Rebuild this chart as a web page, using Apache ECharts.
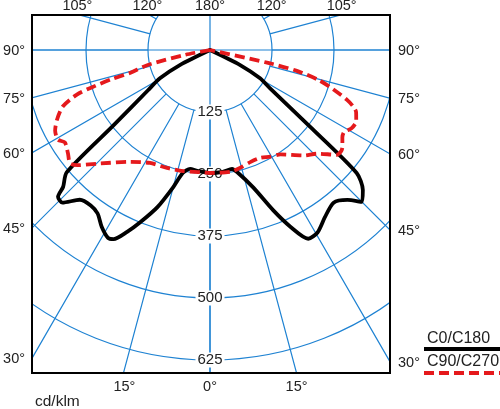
<!DOCTYPE html>
<html>
<head>
<meta charset="utf-8">
<script src="https://cdn.jsdelivr.net/npm/echarts@6/dist/echarts.min.js"></script>
<style>
html, body { margin: 0; padding: 0; background: #fff; }
#main { width: 500px; height: 409px; }
</style>
</head>
<body>
<div id="main"></div>
<script>
// C0/C180 plane (black), angle from nadir in degrees, intensity in cd/klm
var c180Angles = [0, 6, 9.5, 12.5, 15, 18.5, 22, 24.5, 27, 28.5, 31.5, 34.5, 37.5, 41, 44, 46, 47, 49.5, 52, 57, 60.5, 63.5, 64];
var c180Values = [248, 245, 243, 254, 286, 334, 374, 403, 428, 431, 418, 400, 395, 400, 428, 426, 405, 380, 247, 149, 116, 68, 0];
var c0Angles = [0, 6, 10.5, 12.5, 17.5, 21.5, 24.5, 27.5, 30.5, 34.5, 39, 42.5, 45, 47.5, 50, 52.5, 57.5, 60.5, 63.5, 64];
var c0Values = [248, 247, 244, 252, 291, 347, 392, 429, 427, 409, 396, 410, 433, 418, 386, 254, 143, 116, 68, 0];

// C90/C270 plane (red dashed)
var c270Angles = [0, 4.5, 12.5, 20, 28, 35.5, 44, 49, 51, 54, 57.5, 59.5, 62.5, 65.5, 69, 71.5, 72.5, 73.5, 74, 76.5, 79, 80.5];
var c270Values = [248, 247, 250, 253, 258, 277, 318, 354, 363, 354, 347, 356, 352, 339, 318, 283, 249, 206, 168, 129, 50, 0];
var c90Angles = [0, 9.5, 14.5, 20, 25, 29.5, 34, 41.5, 46, 50.5, 52.5, 54, 56.5, 58.5, 61, 64, 67, 68.5, 70, 72.5, 74.5, 76.5, 77.5, 78.5];
var c90Values = [248, 249, 245, 240, 240, 247, 254, 284, 301, 332, 334, 330, 320, 317, 326, 328, 320, 310, 294, 258, 228, 180, 120, 0];

var radiusTicks = [125, 250, 375, 500, 625];
var sideTicks = [90, 75, 60, 45, 30];
var topTicks = [105, 120];
var bottomTicks = [15];

var BLUE = '#1e82d2';
var RED = '#e5191c';
var TXT = '#222';
var FONT = '"Liberation Sans", Arial, sans-serif';

// diagram geometry
var CX = 210, CY = 50;
var RMAX = 750, ROUT = 372;
var FL = 32, FR = 390, FT = 15, FB = 373;

// left half at angle, right half mirrored (360 - angle)
function both(leftA, leftV, rightA, rightV) {
    var out = [];
    for (var i = leftA.length - 1; i >= 0; i--) out.push([leftV[i], leftA[i]]);
    for (var j = 0; j < rightA.length; j++) out.push([rightV[j], 360 - rightA[j]]);
    return out;
}

function txt(s, x, y, align, size) {
    return {
        type: 'text', z: 110, x: x, y: y,
        style: { text: s, fill: TXT, font: (size || 14.5) + 'px ' + FONT, align: align || 'center', verticalAlign: 'middle' }
    };
}

var rad = Math.PI / 180;
var graphics = [
    // white masks outside the frame
    { type: 'rect', z: 100, shape: { x: 0, y: 0, width: 500, height: FT }, style: { fill: '#fff' } },
    { type: 'rect', z: 100, shape: { x: 0, y: 0, width: FL, height: 409 }, style: { fill: '#fff' } },
    { type: 'rect', z: 100, shape: { x: FR, y: 0, width: 110, height: 409 }, style: { fill: '#fff' } },
    { type: 'rect', z: 100, shape: { x: 0, y: FB, width: 500, height: 40 }, style: { fill: '#fff' } },
    { type: 'rect', z: 105, shape: { x: FL, y: FT, width: FR - FL, height: FB - FT }, style: { fill: null, stroke: '#000', lineWidth: 2 } }
];

sideTicks.forEach(function (a) {
    var k = 1 / Math.tan(a * rad);
    if (a === 90) k = 0;
    graphics.push(txt(a + '°', 25, CY + (CX - FL) * k + 1, 'right'));
    graphics.push(txt(a + '°', 398, CY + (FR - CX) * k + 1, 'left'));
});
topTicks.forEach(function (a) {
    var t = (FT - CY) / Math.cos(a * rad);
    var dx = t * Math.sin(a * rad);
    graphics.push(txt(a + '°', CX - dx - 2, 6));
    graphics.push(txt(a + '°', CX + dx + 1, 6));
});
graphics.push(txt('180°', CX, 6));
bottomTicks.forEach(function (a) {
    var t = (FB - CY) / Math.cos(a * rad);
    var dx = t * Math.sin(a * rad);
    graphics.push(txt(a + '°', CX - dx + 1, 387));
    graphics.push(txt(a + '°', CX + dx, 387));
});
graphics.push(txt('0°', CX, 387));
graphics.push(txt('cd/klm', 35, 402, 'left', 15.5));

// legend
graphics.push(txt('C0/C180', 427, 339, 'left', 16));
graphics.push({ type: 'line', z: 110, shape: { x1: 424, y1: 349, x2: 500, y2: 349 }, style: { stroke: '#000', lineWidth: 3.8 } });
graphics.push(txt('C90/C270', 427, 362, 'left', 16));
graphics.push({ type: 'line', z: 110, shape: { x1: 424, y1: 373, x2: 500, y2: 373 }, style: { stroke: RED, lineWidth: 3.8, lineDash: [10, 5] } });

var myChart = echarts.init(document.getElementById('main'));
var option = {
    animation: false,
    backgroundColor: '#fff',
    polar: [
        { center: [CX, CY], radius: [ROUT * 125 / RMAX, ROUT] },
        { center: [CX, CY], radius: [0, ROUT] }
    ],
    angleAxis: [
        {
            polarIndex: 0, type: 'value', min: 0, max: 360, interval: 15,
            startAngle: 270, clockwise: true,
            axisLine: { show: false }, axisTick: { show: false }, axisLabel: { show: false },
            splitLine: { show: true, lineStyle: { color: BLUE, width: 1.2 } }
        },
        {
            polarIndex: 1, type: 'value', min: 0, max: 360, interval: 90,
            startAngle: 270, clockwise: true,
            axisLine: { show: false }, axisTick: { show: false }, axisLabel: { show: false },
            splitLine: { show: true, lineStyle: { color: BLUE, width: 1.2 } }
        }
    ],
    radiusAxis: [
        {
            polarIndex: 0, type: 'value', min: 125, max: RMAX, interval: 125,
            axisLine: { show: false }, axisTick: { show: false }, axisLabel: { show: false },
            splitLine: { show: true, lineStyle: { color: BLUE, width: 1.2 } }
        },
        {
            polarIndex: 1, type: 'value', min: 0, max: RMAX, interval: 125,
            axisLine: { show: false }, axisTick: { show: false }, splitLine: { show: false },
            axisLabel: {
                show: true, margin: 0, align: 'center', verticalAlign: 'middle',
                color: TXT, fontSize: 15, fontFamily: FONT,
                backgroundColor: '#fff', padding: [0, 2],
                formatter: function (v) { return radiusTicks.indexOf(v) >= 0 ? String(v) : ''; }
            }
        }
    ],
    series: [
        {
            name: 'C0/C180', type: 'line', coordinateSystem: 'polar', polarIndex: 1,
            data: both(c180Angles, c180Values, c0Angles, c0Values),
            symbol: 'none', smooth: 0.25, z: 5,
            lineStyle: { color: '#000', width: 3.8, cap: 'round', join: 'round' }
        },
        {
            name: 'C90/C270', type: 'line', coordinateSystem: 'polar', polarIndex: 1,
            data: both(c270Angles, c270Values, c90Angles, c90Values),
            symbol: 'none', smooth: 0.25, z: 6,
            lineStyle: { color: RED, width: 3.8, type: [10, 5], join: 'round' }
        }
    ],
    graphic: { elements: graphics }
};
myChart.setOption(option, true);
window.onresize = myChart.resize;
</script>
</body>
</html>
